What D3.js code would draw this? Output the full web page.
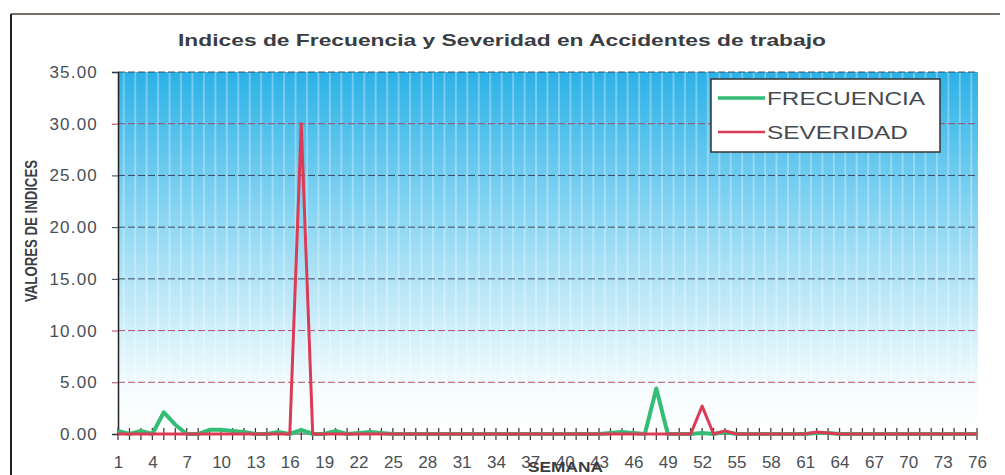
<!DOCTYPE html>
<html><head><meta charset="utf-8">
<script src="https://cdn.jsdelivr.net/npm/d3@7"></script>
<style>body{margin:0;background:#fff}svg{display:block}</style>
</head><body><svg id="c" width="1005" height="475"></svg>
<script>
const weeks = [1,2,3,4,5,6,7,8,9,10,11,12,13,14,15,16,17,18,19,20,21,22,23,24,25,26,27,28,29,30,31,32,33,34,35,36,37,38,39,40,41,42,43,44,45,46,47,48,49,50,51,52,53,54,55,56,57,58,59,60,61,62,63,64,65,66,67,68,69,70,71,72,73,74,75,76];
const frecuencia = [0.3,0,0.3,0,2.1,0.9,0,0,0.4,0.4,0.3,0.2,0,0,0.2,0,0.4,0,0,0.3,0,0.1,0.2,0.1,0,0,0,0,0,0,0,0,0,0,0,0,0,0,0,0,0,0,0,0.1,0.2,0.1,0,4.4,0,0,0,0.1,0,0.2,0,0,0,0,0,0,0,0.1,0.1,0,0,0,0,0,0,0,0,0,0,0,0,0];
const severidad = [0,0,0,0,0,0,0,0,0,0,0,0,0,0,0,0,30,0,0,0,0,0,0,0,0,0,0,0,0,0,0,0,0,0,0,0,0,0,0,0,0,0,0,0,0,0,0,0,0,0,0,2.7,0,0.3,0,0,0,0,0,0,0,0.2,0.1,0,0,0,0,0,0,0,0,0,0,0,0,0];
const yTicks = [0,5,10,15,20,25,30,35];
const xTickLabels = [1,4,7,10,13,16,19,22,25,28,31,34,37,40,43,46,49,52,55,58,61,64,67,70,73,76];
const seriesNames = ["FRECUENCIA","SEVERIDAD"];
const seriesColors = ["#34bd74","#dc3a55"];

const svg = d3.select("#c");
const L = 118, R = 977, T = 72, B = 434;
const x = d3.scalePoint().domain(weeks).range([L, R]);
const y = d3.scaleLinear().domain([0,35]).range([B, T]);

// outer frame
svg.append("line").attr("x1",11).attr("x2",1000).attr("y1",14).attr("y2",14).attr("stroke","#7a7068").attr("stroke-width",2);
svg.append("line").attr("x1",11).attr("x2",11).attr("y1",14).attr("y2",475).attr("stroke","#222").attr("stroke-width",2);

// background gradient
const defs = svg.append("defs");
const g = defs.append("linearGradient").attr("id","bg").attr("x1",0).attr("y1",0).attr("x2",0).attr("y2",1);
g.append("stop").attr("offset","0%").attr("stop-color","#2cb1e6");
g.append("stop").attr("offset","40%").attr("stop-color","#8bd6f3");
g.append("stop").attr("offset","72%").attr("stop-color","#d2f0fa");
g.append("stop").attr("offset","88%").attr("stop-color","#f6fcfe");
g.append("stop").attr("offset","100%").attr("stop-color","#ffffff");
svg.append("rect").attr("x",L).attr("y",y(35)).attr("width",R+1-L).attr("height",B-y(35)).attr("fill","url(#bg)");

// vertical stripes
svg.append("g").selectAll("line").data(weeks.slice(0,-1)).join("line")
  .attr("x1",d=>x(d)+x.step()/2).attr("x2",d=>x(d)+x.step()/2)
  .attr("y1",y(35)).attr("y2",B-40)
  .attr("stroke","#fff").attr("stroke-opacity",0.3).attr("stroke-width",2);

// gridlines
const redGrid = new Set([30,10,5]);
svg.append("g").selectAll("line").data(yTicks.filter(d=>d>0)).join("line")
  .attr("x1",L).attr("x2",R).attr("y1",d=>y(d)).attr("y2",d=>y(d))
  .attr("stroke",d=>redGrid.has(d)?"#a83a55":"#26344a").attr("stroke-opacity",0.85)
  .attr("stroke-width",1).attr("stroke-dasharray","7,3");

// y axis
const yAxis = d3.axisLeft(y).tickValues(yTicks).tickFormat(d3.format(".2f")).tickSize(6).tickPadding(14);
const ya = svg.append("g").attr("transform",`translate(${L},0)`).call(yAxis);
ya.select(".domain").attr("stroke","#222").attr("stroke-width",1.5);
ya.selectAll(".tick line").attr("stroke",d=>redGrid.has(d)?"#b0405a":"#2c3a50");
ya.selectAll("text").attr("font-family","Liberation Sans, Arial, sans-serif").attr("font-size",17)
  .attr("letter-spacing","1.2px").attr("fill","#4a4f55");

// x axis
const xAxis = d3.axisBottom(x).tickValues(weeks).tickSize(0).tickFormat(d=>xTickLabels.includes(d)?d:"").tickPadding(22);
const xa = svg.append("g").attr("transform",`translate(0,${B})`).call(xAxis);
xa.select(".domain").remove();
xa.selectAll("text").attr("font-family","Liberation Sans, Arial, sans-serif").attr("font-size",17).attr("fill","#4a4f55");
svg.append("g").selectAll("line").data(weeks).join("line")
  .attr("x1",d=>x(d)).attr("x2",d=>x(d)).attr("y1",B-6).attr("y2",B+6)
  .attr("stroke","#333").attr("stroke-width",1.2);
svg.append("line").attr("x1",L).attr("x2",R).attr("y1",B).attr("y2",B).attr("stroke","#333").attr("stroke-width",1);

// lines
const line = d3.line().x((d,i)=>x(weeks[i])).y(d=>y(d));
svg.append("path").datum(frecuencia).attr("d",line).attr("fill","none").attr("stroke",seriesColors[0]).attr("stroke-width",4).attr("stroke-linejoin","round");
svg.append("path").datum(severidad).attr("d",line).attr("fill","none").attr("stroke",seriesColors[1]).attr("stroke-width",3).attr("stroke-linejoin","round");

// title
svg.append("text").attr("x",178).attr("y",46).attr("textLength",648).attr("lengthAdjust","spacingAndGlyphs")
  .attr("font-family","Liberation Sans, Arial, sans-serif").attr("font-weight","bold").attr("font-size",17)
  .attr("fill","#3a3d42").text("Indices de Frecuencia y Severidad en Accidentes de trabajo");

// axis titles
svg.append("text").attr("transform","translate(37,231) rotate(-90)").attr("text-anchor","middle")
  .attr("textLength",142).attr("lengthAdjust","spacingAndGlyphs")
  .attr("font-family","Liberation Sans Narrow, Liberation Sans, sans-serif").attr("font-weight","bold").attr("font-size",16)
  .attr("fill","#3a3d42").text("VALORES DE INDICES");
svg.append("text").attr("x",528).attr("y",472).attr("textLength",75).attr("lengthAdjust","spacingAndGlyphs")
  .attr("font-family","Liberation Sans, Arial, sans-serif").attr("font-weight","bold").attr("font-size",14)
  .attr("fill","#3a3d42").text("SEMANA");

// legend
const lg = svg.append("g");
lg.append("rect").attr("x",711).attr("y",79).attr("width",229).attr("height",73).attr("fill","#fff").attr("stroke","#333").attr("stroke-width",1.5);
const lw = [158,141];
seriesNames.forEach((n,i)=>{
  const yy = 98 + i*34;
  lg.append("line").attr("x1",718).attr("x2",765).attr("y1",yy).attr("y2",yy).attr("stroke",seriesColors[i]).attr("stroke-width",i===0?3.5:2.5);
  lg.append("text").attr("x",767).attr("y",yy+7).attr("textLength",lw[i]).attr("lengthAdjust","spacingAndGlyphs")
    .attr("font-family","Liberation Sans, Arial, sans-serif").attr("font-size",19).attr("fill","#454a4f").text(n);
});
</script></body></html>
